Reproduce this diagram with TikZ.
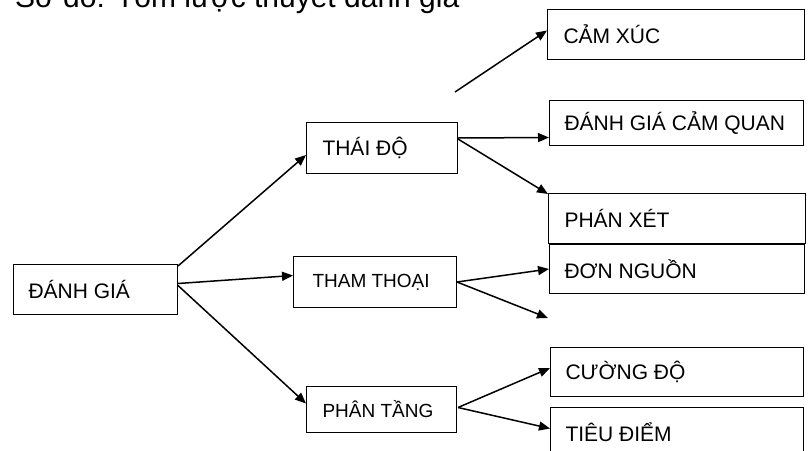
\documentclass[tikz,border=0pt]{standalone}
\usepackage{fontspec}
\setmainfont{Liberation Sans}
\usetikzlibrary{arrows.meta,calc}
\tikzset{
  box/.style={draw=black, line width=1pt, anchor=north west, inner ysep=0pt,
    font=\fontsize{21}{25}\selectfont},
  smalltext/.style={font=\fontsize{19}{23}\selectfont},
  conn/.style={line width=1.5pt, -{Triangle[length=11pt,width=9pt]}}
}
% name, x, y, w, h, pad, text
\newcommand{\boxat}[8][]{%
  \pgfmathsetlengthmacro{\innerw}{#5pt-2*#7pt}%
  \node[box, #1, inner xsep=#7pt, minimum height=#6pt] (#2) at (#3,#4) {\makebox[\innerw][l]{#8}};}
\begin{document}
\begin{tikzpicture}[x=1pt,y=-1pt]
\useasboundingbox (0,0) rectangle (808,450);
\fill[white] (0,0) rectangle (808,450);
\node[anchor=base west, inner sep=0pt, font=\fontsize{30}{36}\selectfont] (title) at (15,7) {Sơ đồ: Tóm lược thuyết đánh giá};
% boxes
\boxat{dg}{13}{264}{164}{50}{15}{ĐÁNH GIÁ}
\boxat{td}{306}{122}{151}{51}{16}{THÁI ĐỘ}
\boxat[smalltext]{tt}{293}{256}{163}{51}{19}{THAM THOẠI}
\boxat[smalltext]{pt}{306}{386}{150}{46}{16}{PHÂN TẦNG}
\boxat{cx}{547}{9}{257}{50}{16}{CẢM XÚC}
\boxat{dgcq}{549}{100}{254}{45}{15}{ĐÁNH GIÁ CẢM QUAN}
\boxat{px}{548}{193}{257}{50}{16}{PHÁN XÉT}
\boxat{dn}{549}{244}{255}{49}{15}{ĐƠN NGUỒN}
\boxat{cd}{550}{347}{253}{49}{15}{CƯỜNG ĐỘ}
\boxat{tdm}{550}{407}{253}{50}{15}{TIÊU ĐIỂM}
% free ends
\coordinate (free1) at (455,92);
\coordinate (free2) at (548,318);
% connectors
\draw[conn] ([yshift=-2pt]dg.north east) -- ([yshift=-7pt]td.west);
\draw[conn] ([yshift=6pt]dg.east) -- ([yshift=6.5pt]tt.west);
\draw[conn] ([yshift=4pt]dg.east) -- ([yshift=6pt]pt.west);
\draw[conn] (free1) -- ([yshift=4pt]cx.west);
\draw[conn] ([yshift=10pt]td.east) -- ([yshift=-14.5pt]dgcq.west);
\draw[conn] ([yshift=9pt]td.east) -- ([yshift=-1pt]px.north west);
\draw[conn] (tt.east) -- (dn.west);
\draw[conn] (tt.east) -- (free2);
\draw[conn] ([xshift=1pt,yshift=2pt]pt.east) -- ([yshift=4pt]cd.west);
\draw[conn] ([xshift=1pt,yshift=2pt]pt.east) -- ([yshift=4pt]tdm.west);
\end{tikzpicture}
\end{document}
